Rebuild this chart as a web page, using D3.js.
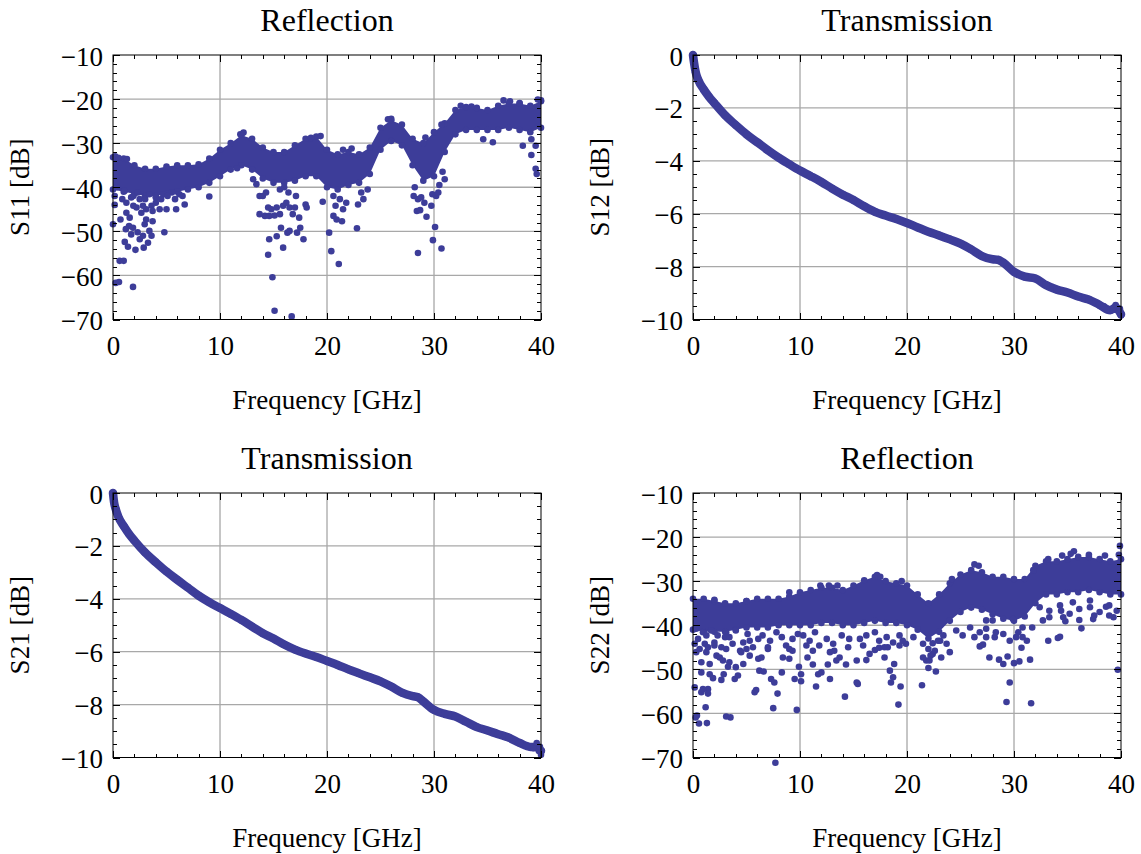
<!DOCTYPE html>
<html>
<head>
<meta charset="utf-8">
<script src="https://cdn.jsdelivr.net/npm/d3@7"></script>
<style>
  body { margin: 0; background: #fff; }
</style>
</head>
<body>
<script>
'use strict';

// ---- data ----
var xMajor = [0, 10, 20, 30, 40];
var reflYMajor = [-70, -60, -50, -40, -30, -20, -10];
var transYMajor = [-10, -8, -6, -4, -2, 0];

// dense part of the reflection clouds, one value per GHz (0..40)
var bandFreq = d3.range(0, 41);
var s11Hi = [-33.2, -33.5, -35, -35.8, -35.8, -35.3, -35, -35, -34.8, -33.5, -31.5,
  -30, -28.2, -29, -31, -32, -32, -30.5, -29, -28.5, -31.5,
  -32.5, -32, -32.5, -31, -26.5, -24.8, -25.8, -29, -30, -27.5,
  -25.5, -22.5, -21.8, -22, -22.5, -21.5, -21, -21, -21.5, -20.5];
var s11Lo = [-40.5, -41, -41.5, -42, -42, -41.5, -41, -40.5, -40, -39, -37.5,
  -36, -35, -36, -38, -39, -39, -38.5, -37.5, -37.5, -40,
  -40.5, -39.5, -39, -37, -31.5, -29.5, -30.5, -35, -38.5, -37.5,
  -32, -28, -27, -27, -27, -27, -26.5, -27, -27.5, -26.5];
var s22Hi = [-34, -34, -34.5, -35, -35, -34.5, -34, -34, -34, -33.5, -32.5,
  -32, -31.5, -31.5, -32, -31, -29.8, -29, -30, -30.5, -31,
  -33, -35, -33, -30.5, -28.5, -27.5, -28, -29, -29, -29.5,
  -29.5, -26.5, -25.5, -25.5, -25, -24.5, -24.5, -25, -25.5, -25];
var s22Lo = [-41, -41.5, -41.5, -41.5, -41, -40.5, -40.5, -40.5, -40, -40, -40,
  -40, -39.5, -39.5, -40, -40, -39.5, -39, -39.5, -39.5, -40,
  -41, -43, -41.5, -39, -37, -36, -36.5, -37.5, -38.5, -39,
  -38, -35, -33, -33, -32.5, -32.5, -32, -32.5, -33, -33];

// loose points around the clouds [GHz, dB]
var s11Scatter = [
  [0.16, -44], [0, -48.4], [0.7, -47.3], [1.25, -45.8], [1.56, -46.9], [1.5, -48.8], [1.2, -49.5],
  [1.87, -49.2], [1.7, -50.7], [1.1, -52.4], [1.4, -53.5], [2.1, -54.2], [2.5, -51.8], [2.3, -50.2],
  [2.8, -51], [3.27, -52.6], [2.87, -53.7], [3.6, -51], [3.4, -49.9], [2.96, -48.4], [3.7, -47.7],
  [3.1, -47.3], [2.65, -45.8], [2.2, -44.6], [3.1, -45], [0.62, -56.7], [1, -56.7], [0.25, -61.7],
  [0.56, -61.5], [1.87, -62.6], [4.8, -50.2], [0.87, -42.7], [1.7, -42.3], [1.25, -43.5], [2.5, -42.7],
  [4, -43.5], [4.36, -45], [5, -45], [5.9, -45], [6.7, -43.9], [6.5, -42], [5.5, -41.2], [4.7, -41.6],
  [9, -42.1], [3.6, -44.2], [0.37, -40], [0.16, -42],
  [1.1, -40.8], [1.9, -42], [2.3, -41.2], [3, -42.7], [3.4, -41.6], [4, -42.3], [4.5, -42.7],
  [5.1, -42], [5.8, -42.7], [6.2, -41.6], [3.7, -45.4], [2.8, -44.2], [1.9, -44.2],
  [11.6, -35.7], [13.1, -38.2], [13.4, -39.3], [13.7, -42], [14, -42], [14.3, -41.2], [13.7, -46.1],
  [14.2, -46.5], [14.6, -46.5], [15.1, -46.4], [15.6, -46.1], [14.5, -44.6], [14.8, -45], [15.3, -44.6],
  [15.9, -44.2], [16.2, -43.5], [16.5, -44.6], [17, -44.6], [16.8, -46.1], [17.4, -46.9], [18, -43.9],
  [18.1, -44.6], [14.6, -51.8], [15.3, -51.1], [15.7, -49.2], [14.5, -55.3], [15.9, -53.7], [14.9, -60.4],
  [16.3, -50.3], [16.5, -49.9], [17.2, -50.3], [17.5, -49.2], [17.8, -51.8], [15.1, -68], [16.7, -69.3],
  [15.6, -40.5], [16, -40], [16.4, -41.2], [17.1, -42], [19.6, -43.3], [20.2, -50.3], [20.4, -54.5],
  [21.1, -57.4], [20.6, -46.5], [20.9, -47.3], [21.4, -47.7], [20.8, -44.2], [21.5, -45], [21.8, -43.5],
  [21.2, -42.7], [20.6, -42], [22.9, -43.9], [23.4, -42.7], [22.8, -49.3], [23.8, -40.5], [23.2, -41.2],
  [28.2, -40], [28.1, -42], [28.5, -42.7], [28.8, -42.3], [28.4, -45.4], [28.7, -45.2], [29.3, -46.7],
  [29.1, -43.5], [29.75, -44.2], [29.85, -41.6], [30.2, -42], [30.4, -41.2], [30.5, -39.5], [30.1, -49],
  [29.9, -52], [28.5, -54.9], [30.7, -53.9], [31, -38.2], [30.8, -36.5], [29.2, -28.7],
  [38.3, -30.6], [35.5, -29.8], [39.1, -32.7], [39.5, -35.8], [39.6, -37], [39.5, -30.6], [34.6, -29.1],
  [39.1, -29.1], [11.9, -28], [12.2, -27.6], [19.4, -28.4], [18.5, -28.8], [26, -24.5], [25.7, -24.6],
  [21.5, -31.5], [22.3, -31.2], [30.7, -25.8], [32.5, -21.5], [33.5, -21.7], [36.5, -20.3], [37.1, -20.5],
  [38, -20.9], [39.7, -20.1], [40, -20.3], [0.2, -33], [0.5, -33.3], [1.3, -33.6]
];
var s22Scatter = [
  [0.16, -44.2], [0.3, -46.1], [0.16, -54.1], [0.37, -60.5], [0.56, -62.3], [1.3, -62.2], [0.25, -60.9],
  [1.18, -58.6], [0.78, -55.2], [1.4, -54.5], [1.4, -55.5], [0.93, -54.5], [0.78, -50.7], [1.56, -51.1],
  [1.87, -52], [0.78, -48.4], [1.56, -48.8], [1.25, -46.1], [1.1, -44.2], [2, -44.6], [2.2, -46.9],
  [2.5, -47.3], [2.8, -48], [2.65, -52.4], [2.87, -51.1], [3.27, -49.4], [3.4, -48.4], [3.1, -45.4],
  [3.7, -44.2], [3.9, -52.2], [4, -49.5], [4.2, -51.4], [3.1, -60.7], [3.5, -60.9], [4.7, -48.8],
  [4.5, -46.1], [5, -45.4], [5.3, -43.5], [5.76, -55.2], [5.9, -54.7], [6.2, -50.3], [6.6, -50.5],
  [6.1, -47.6], [6.4, -47.3], [7, -45.4], [7.3, -52.2], [7.6, -53], [7.9, -55.5], [7.5, -58.8],
  [8.3, -50.7], [8.4, -47.3], [9, -47.6], [9.3, -45.8], [9.5, -52.2], [9.7, -59.2], [9.9, -49.4],
  [10.1, -52.7], [10.1, -51.1], [10.7, -47.3], [10.6, -44.6], [11.2, -48.9], [11.7, -51.1], [12, -50.7],
  [11.5, -53.9], [12.8, -52.2], [12.6, -48.9], [13.2, -45.8], [13.7, -47.3], [13.4, -48], [14.2, -56.2],
  [14.3, -48.9], [15.3, -53], [15.4, -53.3], [15.3, -48], [16.2, -47.9], [16.5, -46.5], [17, -45.6],
  [17.4, -45.1], [17.9, -47.3], [18.4, -50.3], [18.7, -51.8], [18.5, -53], [19.4, -53.9], [19.2, -58],
  [18.8, -48.8], [18.2, -45], [19.3, -44.6], [19.9, -44.2], [21.4, -53.6], [21.8, -48], [22, -49.7],
  [22.7, -50.5], [22.2, -46.9], [22.6, -45.8], [23.2, -47.3], [24, -46.1], [23.7, -44.2], [22.4, -44.1],
  [23.1, -43.5], [7.7, -71.2],
  [0.3, -40.8], [0.93, -41.6], [1.7, -41.2], [2.3, -42.3], [3, -42.7], [0.47, -43.1], [2, -43.9],
  [2.65, -45], [1.25, -42.3], [3.1, -41.6], [0.62, -45.4], [1.4, -45],
  [3.4, -42.7], [4, -41.2], [4.7, -43.9], [5.1, -42], [5.6, -45], [6.1, -43.1], [4.4, -45.8], [5.3, -46.9],
  [6.5, -42.3], [7.2, -43.5], [7.8, -41.6], [8.3, -42.7], [8.7, -44.6], [9.3, -43.1], [9.8, -42],
  [7, -45], [9, -45.4],
  [10.3, -42.3], [10.9, -43.5], [11.4, -41.6], [11.8, -44.6], [12.5, -43.1], [13.1, -44.2], [13.9, -42.3],
  [14.5, -45], [14.6, -43.1], [11.2, -45.8], [12.8, -46.1],
  [15.6, -43.1], [16.2, -42.3], [17, -41.6], [17.4, -43.5], [18.1, -42.7], [18.7, -43.9], [19.3, -42.3],
  [19.6, -43.5], [15.9, -44.6], [17.9, -45],
  [20.6, -42.7], [21.5, -44.2], [22, -45.4], [22.4, -46.5], [22.9, -43.5], [23.4, -42.3], [21.5, -47.3],
  [22.1, -48],
  [24.6, -41.2], [25.2, -42.3], [25.9, -40.5], [26.8, -41.6], [27.4, -40.8], [28.2, -42.7], [29, -42],
  [29.6, -43.5], [30.4, -41.6], [30.8, -42.7],
  [32.4, -35.9], [33.3, -36.7], [34.3, -35.5], [35.2, -37.4], [36.1, -36.3], [37.1, -35.9], [38, -37],
  [38.9, -35.5], [39.6, -36.7], [32.7, -38.9], [34.6, -38.2], [37.4, -38.6], [39.3, -38.2],
  [26.3, -42.7], [26.8, -44.8], [27.1, -44.4], [27.4, -42.7], [27.7, -47.3], [28.6, -47.8], [29, -48.8],
  [29.4, -47.1], [29.3, -57.4], [29.6, -53], [30, -48.6], [30.5, -48.2], [31.5, -47.8], [31.6, -57.7],
  [30.7, -45.1], [31.2, -43.5], [30.2, -42.7], [31.7, -40.5], [33.2, -43.5], [34.1, -42.9], [34.3, -42.6],
  [36.3, -40.7], [34.8, -39.1], [36.1, -38.8], [37.5, -37.8], [38.9, -37.8], [38.6, -35.8], [39.7, -50.1],
  [33.3, -38.2], [34.4, -36.7], [35.5, -34.8], [37.1, -34.4], [28, -38.9], [28.3, -41.6], [27.4, -38.9],
  [29.9, -38.6], [30.8, -40.5],
  [17.2, -28.6], [17.5, -29], [26.3, -26.2], [26.7, -26.5], [35.6, -23.2], [35.3, -23.8], [34.5, -24.2],
  [39.9, -22], [39.8, -24], [33.2, -25], [38.5, -24.2], [37, -24], [31.8, -27.5], [24.2, -29.5],
  [19.5, -30], [11.9, -31], [12.7, -31], [13.5, -31], [9, -32.5], [5, -34.5], [2, -34.2]
];

// transmission traces
var transFreq = [0, 0.1, 0.25, 0.5, 1, 1.5, 2, 3, 4, 5, 6, 7, 8, 9, 10, 11, 12, 13, 14, 15,
  16, 17, 18, 19, 20, 21, 22, 23, 24, 25, 26, 27, 28, 28.5, 29, 30, 31, 32, 33, 34,
  35, 36, 37, 38, 39, 39.5, 40];
var s12Values = [0, -0.3, -0.65, -0.95, -1.3, -1.58, -1.82, -2.28, -2.65, -3.0, -3.3, -3.6, -3.88,
  -4.13, -4.37, -4.58, -4.8, -5.05, -5.28, -5.48, -5.72, -5.93, -6.07, -6.2, -6.35, -6.52,
  -6.68, -6.82, -6.97, -7.13, -7.35, -7.6, -7.72, -7.74, -7.85, -8.2, -8.38, -8.45, -8.7,
  -8.87, -8.98, -9.13, -9.25, -9.45, -9.65, -9.55, -9.8];
var s21Values = [0, -0.35, -0.6, -0.9, -1.25, -1.55, -1.8, -2.25, -2.62, -2.97, -3.28, -3.58, -3.88,
  -4.13, -4.35, -4.57, -4.8, -5.05, -5.3, -5.5, -5.73, -5.92, -6.07, -6.2, -6.35, -6.5,
  -6.67, -6.82, -6.97, -7.12, -7.32, -7.55, -7.68, -7.72, -7.88, -8.2, -8.35, -8.45, -8.65,
  -8.85, -8.98, -9.12, -9.25, -9.45, -9.6, -9.6, -9.75];
var s12Jitter = [[38.4, -9.5], [38.7, -9.62], [39.2, -9.6], [39.5, -9.45], [39.8, -9.7], [40, -9.85], [39.9, -9.6]];
var s21Jitter = [[38.6, -9.55], [39.3, -9.65], [39.6, -9.45], [39.8, -9.75], [40, -9.9], [39.9, -9.6]];

// ---- drawing ----
var W = 428, H = 264.5;
var COLOR = "#3d3d99";
var FONT = "'Liberation Serif', 'Times New Roman', serif";

var panels = [
  { title: "Reflection", yLabel: "S11 [dB]", left: 113, top: 55, yDomain: [-70, -10], yMajor: reflYMajor, yMinorStep: 2,
    hi: s11Hi, lo: s11Lo, scatter: s11Scatter },
  { title: "Transmission", yLabel: "S12 [dB]", left: 693, top: 55, yDomain: [-10, 0], yMajor: transYMajor, yMinorStep: 0.5,
    values: s12Values, scatter: s12Jitter },
  { title: "Transmission", yLabel: "S21 [dB]", left: 113, top: 493, yDomain: [-10, 0], yMajor: transYMajor, yMinorStep: 0.5,
    values: s21Values, scatter: s21Jitter },
  { title: "Reflection", yLabel: "S22 [dB]", left: 693, top: 493, yDomain: [-70, -10], yMajor: reflYMajor, yMinorStep: 2,
    hi: s22Hi, lo: s22Lo, scatter: s22Scatter }
];

var svg = d3.select("body").append("svg")
  .attr("width", 1141)
  .attr("height", 854);

panels.forEach(drawPanel);

function styleAxis(a) {
  a.select(".domain").remove();
  a.selectAll("line").attr("stroke", "#000").attr("shape-rendering", "crispEdges");
  a.selectAll("text").attr("font-family", FONT).attr("font-size", 27).attr("fill", "#000");
  return a;
}

function drawPanel(p) {
  var g = svg.append("g").attr("transform", "translate(" + p.left + "," + p.top + ")");
  var x = d3.scaleLinear().domain([0, 40]).range([0, W]);
  var y = d3.scaleLinear().domain(p.yDomain).range([H, 0]);

  var xMinor = d3.range(0, 40.001, 2).filter(function(v) { return xMajor.indexOf(v) < 0; });
  var yMinor = d3.range(p.yDomain[0], p.yDomain[1] + 1e-6, p.yMinorStep)
    .filter(function(v) { return p.yMajor.indexOf(+v.toFixed(3)) < 0; });

  // grid lines
  g.selectAll(".vgrid").data(xMajor.slice(1, -1)).enter().append("line")
    .attr("x1", x).attr("x2", x).attr("y1", 0).attr("y2", H)
    .attr("stroke", "#8c8c8c").attr("stroke-width", 1);
  g.selectAll(".hgrid").data(p.yMajor.slice(1, -1)).enter().append("line")
    .attr("y1", y).attr("y2", y).attr("x1", 0).attr("x2", W)
    .attr("stroke", "#a8a8a8").attr("stroke-width", 1.3);

  // data
  if (p.hi) {
    var band = bandFreq.map(function(f, i) { return { f: f, hi: p.hi[i], lo: p.lo[i] }; });
    var area = d3.area()
      .x(function(d) { return x(d.f); })
      .y0(function(d) { return y(d.lo); })
      .y1(function(d) { return y(d.hi); });
    g.append("path").datum(band).attr("d", area).attr("fill", COLOR);
    var edge = [];
    band.forEach(function(d) { edge.push([d.f, d.hi]); edge.push([d.f, d.lo]); });
    g.selectAll(".edge").data(edge).enter().append("circle")
      .attr("cx", function(d) { return x(d[0]); })
      .attr("cy", function(d) { return y(d[1]); })
      .attr("r", 3.3).attr("fill", COLOR);
  } else {
    var pts = transFreq.map(function(f, i) { return [f, p.values[i]]; });
    var line = d3.line()
      .x(function(d) { return x(d[0]); })
      .y(function(d) { return y(d[1]); })
      .curve(d3.curveMonotoneX);
    g.append("path").datum(pts).attr("d", line)
      .attr("fill", "none").attr("stroke", COLOR).attr("stroke-width", 8.5)
      .attr("stroke-linecap", "round").attr("stroke-linejoin", "round");
    g.selectAll(".pt").data(pts).enter().append("circle")
      .attr("cx", function(d) { return x(d[0]); })
      .attr("cy", function(d) { return y(d[1]); })
      .attr("r", 3.8).attr("fill", COLOR);
  }
  g.selectAll(".sc").data(p.scatter).enter().append("circle")
    .attr("cx", function(d) { return x(d[0]); })
    .attr("cy", function(d) { return y(d[1]); })
    .attr("r", 3.3).attr("fill", COLOR);

  // ticks, all pointing inward
  var fmt = d3.format("d");
  styleAxis(g.append("g").attr("transform", "translate(0," + H + ")")
    .call(d3.axisBottom(x).tickValues(xMajor).tickSize(-7).tickPadding(16).tickFormat(fmt)));
  styleAxis(g.append("g").attr("transform", "translate(0," + H + ")")
    .call(d3.axisBottom(x).tickValues(xMinor).tickSize(-4).tickFormat("")));
  styleAxis(g.append("g").call(d3.axisTop(x).tickValues(xMajor).tickSize(-7).tickFormat("")));
  styleAxis(g.append("g").call(d3.axisTop(x).tickValues(xMinor).tickSize(-4).tickFormat("")));
  var left = styleAxis(g.append("g")
    .call(d3.axisLeft(y).tickValues(p.yMajor).tickSize(-7).tickPadding(10).tickFormat(fmt)));
  left.selectAll("text").attr("dy", "0.37em");
  styleAxis(g.append("g").call(d3.axisLeft(y).tickValues(yMinor).tickSize(-4).tickFormat("")));
  styleAxis(g.append("g").attr("transform", "translate(" + W + ",0)")
    .call(d3.axisRight(y).tickValues(p.yMajor).tickSize(-7).tickFormat("")));
  styleAxis(g.append("g").attr("transform", "translate(" + W + ",0)")
    .call(d3.axisRight(y).tickValues(yMinor).tickSize(-4).tickFormat("")));

  // frame
  g.append("rect").attr("width", W).attr("height", H)
    .attr("fill", "none").attr("stroke", "#000").attr("stroke-width", 1);

  // texts
  g.append("text").attr("x", W / 2).attr("y", -24)
    .attr("text-anchor", "middle").attr("font-family", FONT).attr("font-size", 32)
    .text(p.title);
  g.append("text").attr("x", W / 2).attr("y", H + 89)
    .attr("text-anchor", "middle").attr("font-family", FONT).attr("font-size", 27)
    .text("Frequency [GHz]");
  g.append("text")
    .attr("transform", "translate(-84," + (H / 2) + ") rotate(-90)")
    .attr("text-anchor", "middle").attr("font-family", FONT).attr("font-size", 27)
    .text(p.yLabel);
}
</script>
</body>
</html>
